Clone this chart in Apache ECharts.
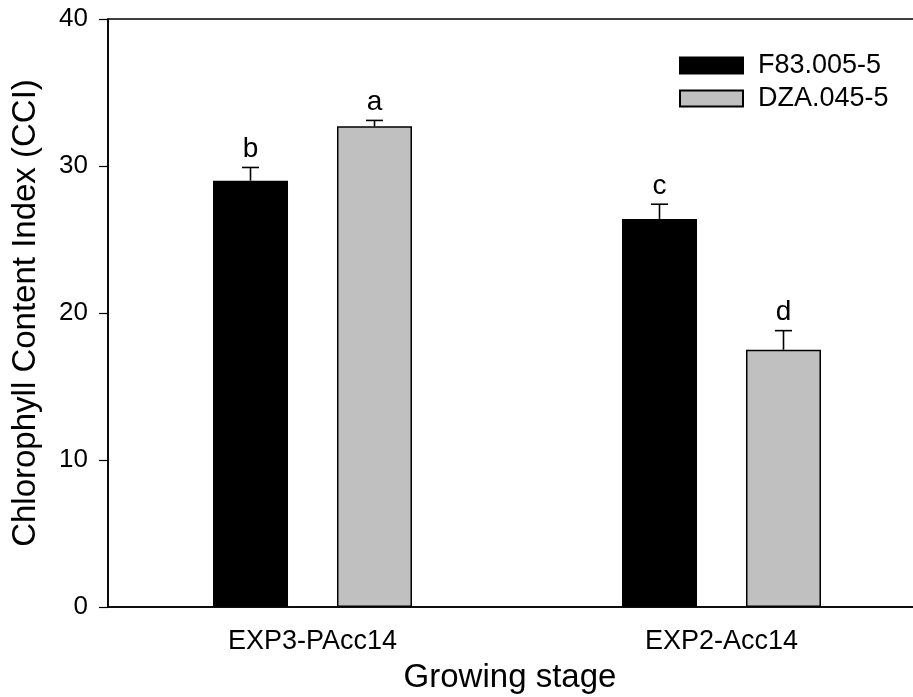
<!DOCTYPE html>
<html>
<head>
<meta charset="utf-8">
<script src="https://cdn.jsdelivr.net/npm/echarts@6/dist/echarts.min.js"></script>
<style>
html,body{margin:0;padding:0;background:#fff;}
#chart{width:913px;height:697px;}
</style>
</head>
<body>
<div id="chart"></div>
<script>
// Chlorophyll content index by growing stage for two genotypes
const stages = ['EXP3-PAcc14', 'EXP2-Acc14'];
const seriesNames = ['F83.005-5', 'DZA.045-5'];
const f83Mean = [29.0, 26.4];
const f83Err = [0.9, 1.0];
const dzaMean = [32.7, 17.5];
const dzaErr = [0.4, 1.3];
const f83Letters = ['b', 'c'];
const dzaLetters = ['a', 'd'];
const yTicks = [0, 10, 20, 30, 40];

const FONT = 'Liberation Sans, Arial, sans-serif';
const BAR_W = 75;
const BAR_GAP = 49;

const chart = echarts.init(document.getElementById('chart'), null, {renderer: 'canvas'});

// error whisker (upward only) with a cap and a significance letter above it
function errorSeries(means, errs, letters, slot) {
  const data = means.map((m, i) => [i, m, m + errs[i]]);
  return {
    type: 'custom',
    silent: true,
    z: 5,
    data: data,
    renderItem: function (params, api) {
      const i = api.value(0);
      const base = api.coord([i, api.value(1)]);
      const top = api.coord([i, api.value(2)]);
      const x = base[0] + slot * (BAR_W + BAR_GAP) / 2;
      const cap = 8.5;
      const ls = {stroke: '#000', lineWidth: 1.6};
      return {
        type: 'group',
        children: [
          {type: 'line', shape: {x1: x, y1: base[1], x2: x, y2: top[1]}, style: ls},
          {type: 'line', shape: {x1: x - cap, y1: top[1], x2: x + cap, y2: top[1]}, style: ls},
          {type: 'text', x: x, y: top[1] - 4,
           style: {text: letters[i], fill: '#000', font: '28px ' + FONT,
                   textAlign: 'center', textVerticalAlign: 'bottom'}}
        ]
      };
    }
  };
}

const option = {
  animation: false,
  backgroundColor: '#fff',
  textStyle: {fontFamily: FONT, color: '#000'},
  grid: {
    left: 108, top: 19, width: 818, height: 588,
    containLabel: false,
    outerBoundsMode: 'none',
    show: true, borderColor: '#000', borderWidth: 1.6, backgroundColor: 'transparent'
  },
  legend: {
    orient: 'vertical',
    left: 674, top: 47,
    icon: 'rect',
    itemWidth: 63, itemHeight: 16, itemGap: 6,
    textStyle: {fontFamily: FONT, fontSize: 27, color: '#000', padding: [0, 0, 0, 10]},
    data: seriesNames
  },
  xAxis: {
    type: 'category',
    data: stages,
    boundaryGap: true,
    axisLine: {lineStyle: {color: '#000', width: 1.6}},
    axisTick: {alignWithLabel: true, length: 8, lineStyle: {color: '#000', width: 1.2}},
    axisLabel: {fontSize: 27, color: '#000', margin: 21, fontFamily: FONT},
    name: 'Growing stage',
    nameLocation: 'middle',
    nameGap: 54,
    nameTextStyle: {fontSize: 33, color: '#000', fontFamily: FONT, padding: [0, 14, 0, 0]}
  },
  yAxis: {
    type: 'value',
    min: yTicks[0], max: yTicks[yTicks.length - 1], interval: 10,
    splitLine: {show: false},
    axisLine: {show: true, lineStyle: {color: '#000', width: 1.6}},
    axisTick: {show: true, length: 9, lineStyle: {color: '#000', width: 1.2}},
    axisLabel: {fontSize: 26, color: '#000', margin: 20, fontFamily: FONT},
    name: 'Chlorophyll Content Index (CCI)',
    nameLocation: 'middle',
    nameGap: 66,
    nameTextStyle: {fontSize: 33, color: '#000', fontFamily: FONT}
  },
  series: [
    {
      name: seriesNames[0], type: 'bar', data: f83Mean,
      barWidth: BAR_W, barGap: (BAR_GAP / BAR_W * 100).toFixed(1) + '%',
      itemStyle: {color: '#000', borderColor: '#000', borderWidth: 1.5}
    },
    {
      name: seriesNames[1], type: 'bar', data: dzaMean,
      barWidth: BAR_W,
      itemStyle: {color: '#c0c0c0', borderColor: '#000', borderWidth: 1.5}
    },
    errorSeries(f83Mean, f83Err, f83Letters, -1),
    errorSeries(dzaMean, dzaErr, dzaLetters, 1)
  ]
};

chart.setOption(option);
</script>
</body>
</html>
